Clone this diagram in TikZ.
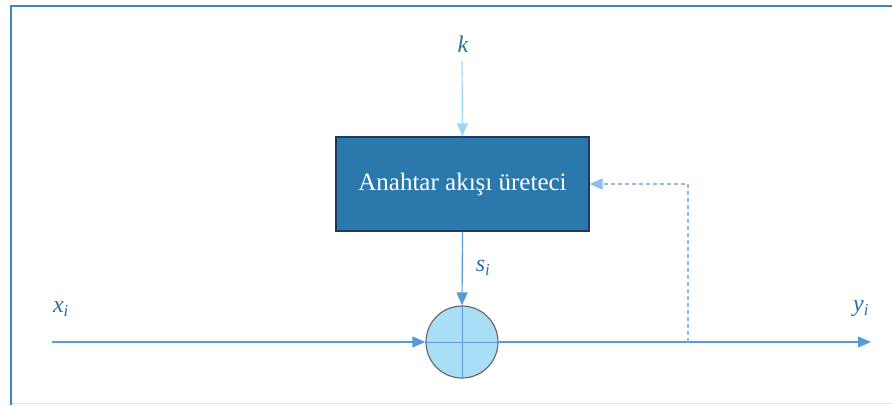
\documentclass[tikz,border=0pt]{standalone}
\usepackage{fontspec}
\setmainfont{Liberation Serif}
\usetikzlibrary{arrows.meta}
\definecolor{framecol}{HTML}{3A86C6}
\definecolor{boxfill}{HTML}{2A78AC}
\definecolor{boxedge}{HTML}{1F3A5C}
\definecolor{xorfill}{HTML}{A8DEF6}
\definecolor{xoredge}{HTML}{6B6B6B}
\definecolor{flowcol}{HTML}{5B9BD5}
\definecolor{keycol}{HTML}{9BD8F4}
\definecolor{fbcol}{HTML}{8FBCE6}
\definecolor{labcol}{HTML}{2E6DA8}
\definecolor{faint}{HTML}{D6E7F5}
\tikzset{
  gen/.style={draw=boxedge, line width=1.2pt, fill=boxfill, minimum width=253pt,
    minimum height=94pt, inner sep=0pt, text=white, font=\fontsize{25}{28}\selectfont},
  xorc/.style={circle, draw=xoredge, line width=1.2pt, fill=xorfill, minimum size=72pt, inner sep=0pt},
  flow/.style={draw=flowcol, line width=1.2pt, -{Triangle[length=13pt,width=11pt]}},
  keyflow/.style={draw=keycol, line width=1.2pt, -{Triangle[length=13pt,width=11pt]}},
  fbflow/.style={draw=fbcol, line width=1.2pt, dashed, dash pattern=on 4pt off 3pt,
    -{Triangle[length=13pt,width=11pt]}},
  lab/.style={text=labcol, font=\fontsize{24}{26}\selectfont\itshape, inner sep=0pt},
}
\begin{document}
\begin{tikzpicture}[x=1pt,y=-1pt]
  \useasboundingbox (0,0) rectangle (892,405);
  % outer frame
  \draw[faint, line width=1.2pt] (12,403.5) -- (892,403.5);
  \draw[framecol, line width=2.6pt] (11,405) -- (11,6) -- (892,6);

  % key stream generator and XOR combiner
  \node[gen] (g) at (462.5,184) {\raisebox{-3pt}{Anahtar akışı üreteci}};
  \node[xorc] (c) at (462,342) {};
  \draw[flowcol, line width=1pt] (c.north) -- (c.south) (c.west) -- (c.east);

  % labels
  \node[lab] (k) at (463,44) {k};
  \node[lab] (s) at (483,268) {s\textsubscript{i}};
  \node[lab] (x) at (61,309) {x\textsubscript{i}};
  \node[lab] (y) at (861,309) {y\textsubscript{i}};

  % connection points
  \coordinate (ks) at (462,61);
  \coordinate (in) at (52,342);
  \coordinate (out) at (871,342);
  \coordinate (tap) at (688,342);
  \coordinate (corner) at (688,184);

  % signal flow
  \draw[keyflow] (ks) -- (g.north);
  \draw[flow] (g.south) -- (c.north);
  \draw[flow] (in) -- (c.west);
  \draw[flow] (c.east) -- (out);
  \draw[fbflow] (tap) -- (corner) -- (g.east);
\end{tikzpicture}
\end{document}
